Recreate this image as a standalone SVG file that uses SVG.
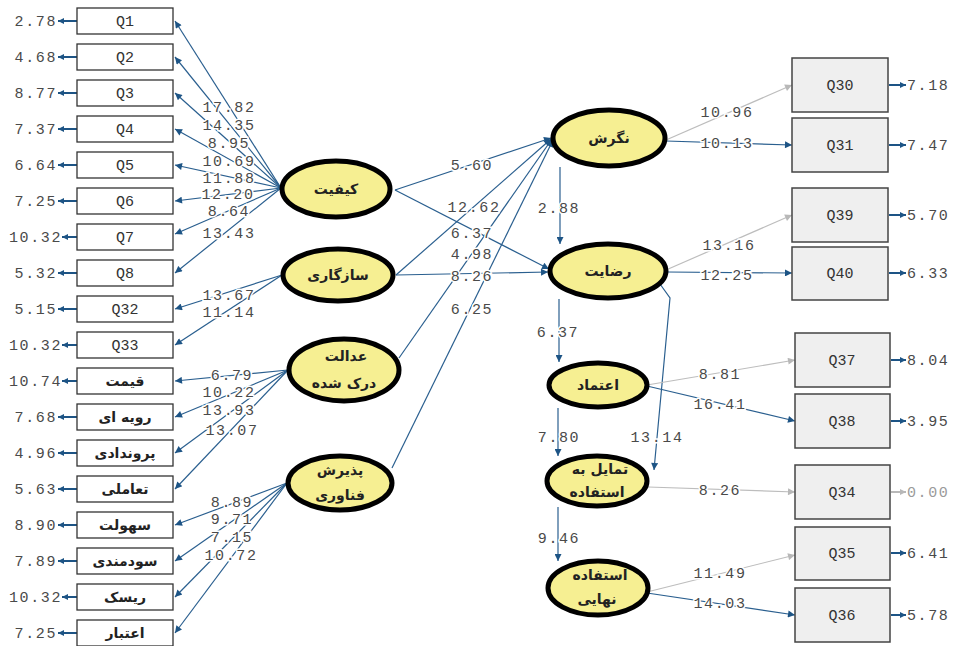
<svg xmlns="http://www.w3.org/2000/svg" width="957" height="646" viewBox="0 0 957 646">
<defs>
<marker id="ab" viewBox="0 0 10 10" refX="10" refY="5" markerWidth="9" markerHeight="7" markerUnits="userSpaceOnUse" orient="auto"><path d="M0,0 L10,5 L0,10 z" fill="#1d5485"/></marker>
<marker id="ag" viewBox="0 0 10 10" refX="10" refY="5" markerWidth="9" markerHeight="7" markerUnits="userSpaceOnUse" orient="auto"><path d="M0,0 L10,5 L0,10 z" fill="#b8b8b8"/></marker>
<marker id="ae" viewBox="0 0 10 10" refX="10" refY="5" markerWidth="8" markerHeight="6" markerUnits="userSpaceOnUse" orient="auto"><path d="M0,0 L10,5 L0,10 z" fill="#1d5485"/></marker>
<marker id="aeg" viewBox="0 0 10 10" refX="10" refY="5" markerWidth="8" markerHeight="6" markerUnits="userSpaceOnUse" orient="auto"><path d="M0,0 L10,5 L0,10 z" fill="#b8b8b8"/></marker>
<style>
.b{stroke:#2a5f8f;stroke-width:1.2;fill:none;marker-end:url(#ab)}
.g{stroke:#bdbdbd;stroke-width:1.2;fill:none;marker-end:url(#ag)}
.e{stroke:#1d5485;stroke-width:2;fill:none;marker-end:url(#ae)}
.eg{stroke:#b8b8b8;stroke-width:2;fill:none;marker-end:url(#aeg)}
.lb{fill:#fff;stroke:#333;stroke-width:1.3}
.rb{fill:#efefef;stroke:#444;stroke-width:1.5}
.el{fill:#f6ef92;stroke:#000;stroke-width:5}
.n{font-family:"Liberation Mono",monospace;font-size:15px;letter-spacing:1.6px;fill:#4a4a4a;text-anchor:middle;paint-order:stroke;stroke:#fff;stroke-width:3px}
.ne{font-family:"Liberation Mono",monospace;font-size:15px;letter-spacing:1.6px;fill:#4a4a4a}
.q{font-family:"Liberation Mono",monospace;font-size:15px;fill:#333;text-anchor:middle}
.p{font-family:"DejaVu Sans",sans-serif;font-size:14px;font-weight:bold;fill:#222;text-anchor:middle}
</style>
</defs>
<rect width="957" height="646" fill="#fff"/>

<g id="connectors">
<line class="b" x1="281" y1="188" x2="175" y2="21"/>
<line class="b" x1="281" y1="188" x2="175" y2="57"/>
<line class="b" x1="281" y1="188" x2="175" y2="93"/>
<line class="b" x1="281" y1="188" x2="175" y2="129"/>
<line class="b" x1="281" y1="188" x2="175" y2="165"/>
<line class="b" x1="281" y1="188" x2="175" y2="201"/>
<line class="b" x1="281" y1="188" x2="175" y2="234"/>
<line class="b" x1="281" y1="188" x2="175" y2="273"/>
<line class="b" x1="282" y1="275" x2="175" y2="309"/>
<line class="b" x1="282" y1="275" x2="175" y2="345"/>
<line class="b" x1="288" y1="370" x2="175" y2="381"/>
<line class="b" x1="288" y1="370" x2="175" y2="417"/>
<line class="b" x1="288" y1="370" x2="175" y2="453"/>
<line class="b" x1="288" y1="370" x2="175" y2="489"/>
<line class="b" x1="287" y1="483" x2="175" y2="525"/>
<line class="b" x1="287" y1="483" x2="175" y2="561"/>
<line class="b" x1="287" y1="483" x2="175" y2="597"/>
<line class="b" x1="287" y1="483" x2="175" y2="633"/>
<line class="e" x1="77" y1="21" x2="58" y2="21"/>
<line class="e" x1="77" y1="57" x2="58" y2="57"/>
<line class="e" x1="77" y1="93" x2="58" y2="93"/>
<line class="e" x1="77" y1="129" x2="58" y2="129"/>
<line class="e" x1="77" y1="165" x2="58" y2="165"/>
<line class="e" x1="77" y1="201" x2="58" y2="201"/>
<line class="e" x1="77" y1="237" x2="62" y2="237"/>
<line class="e" x1="77" y1="273" x2="58" y2="273"/>
<line class="e" x1="77" y1="309" x2="58" y2="309"/>
<line class="e" x1="77" y1="345" x2="62" y2="345"/>
<line class="e" x1="77" y1="381" x2="62" y2="381"/>
<line class="e" x1="77" y1="417" x2="58" y2="417"/>
<line class="e" x1="77" y1="453" x2="58" y2="453"/>
<line class="e" x1="77" y1="489" x2="58" y2="489"/>
<line class="e" x1="77" y1="525" x2="58" y2="525"/>
<line class="e" x1="77" y1="561" x2="58" y2="561"/>
<line class="e" x1="77" y1="597" x2="62" y2="597"/>
<line class="e" x1="77" y1="633" x2="58" y2="633"/>
<line class="b" x1="395" y1="190" x2="551" y2="138"/>
<line class="b" x1="395" y1="190" x2="549" y2="269"/>
<line class="b" x1="396" y1="275" x2="551" y2="139"/>
<line class="b" x1="396" y1="275" x2="548" y2="272"/>
<line class="b" x1="399" y1="358" x2="552" y2="139"/>
<line class="b" x1="392" y1="468" x2="553" y2="140"/>
<line class="b" x1="560" y1="167" x2="560" y2="244"/>
<line class="b" x1="559" y1="299" x2="559" y2="362"/>
<line class="b" x1="558" y1="408" x2="558" y2="456"/>
<line class="b" x1="558" y1="507" x2="558" y2="561"/>
<path class="b" d="M660,284 L670,298 L654,470"/>
<line class="g" x1="666" y1="140" x2="792" y2="85"/>
<line class="b" x1="666" y1="141" x2="792" y2="145"/>
<line class="g" x1="666" y1="270" x2="792" y2="215"/>
<line class="b" x1="667" y1="272" x2="792" y2="273"/>
<line class="g" x1="647" y1="385" x2="795" y2="360"/>
<line class="b" x1="647" y1="386" x2="795" y2="421"/>
<line class="g" x1="648" y1="487" x2="795" y2="492"/>
<line class="g" x1="647" y1="592" x2="795" y2="555"/>
<line class="b" x1="647" y1="593" x2="795" y2="615"/>
<line class="e" x1="889" y1="85" x2="906" y2="85"/>
<line class="e" x1="889" y1="145" x2="906" y2="145"/>
<line class="e" x1="889" y1="215" x2="906" y2="215"/>
<line class="e" x1="889" y1="273" x2="906" y2="273"/>
<line class="e" x1="891" y1="360" x2="906" y2="360"/>
<line class="e" x1="891" y1="421" x2="906" y2="421"/>
<line class="eg" x1="891" y1="492" x2="906" y2="492"/>
<line class="e" x1="891" y1="553" x2="906" y2="553"/>
<line class="e" x1="891" y1="615" x2="906" y2="615"/>
</g>

<g id="labels">
<text class="n" x="229" y="112">17.82</text>
<text class="n" x="229" y="130">14.35</text>
<text class="n" x="229" y="148">8.95</text>
<text class="n" x="229" y="166">10.69</text>
<text class="n" x="229" y="183">11.88</text>
<text class="n" x="228" y="199">12.20</text>
<text class="n" x="229" y="216">8.64</text>
<text class="n" x="229" y="238">13.43</text>
<text class="n" x="229" y="300">13.67</text>
<text class="n" x="229" y="317">11.14</text>
<text class="n" x="232" y="380">6.79</text>
<text class="n" x="229" y="397">10.22</text>
<text class="n" x="229" y="415">13.93</text>
<text class="n" x="232" y="435">13.07</text>
<text class="n" x="232" y="507">8.89</text>
<text class="n" x="232" y="524">9.71</text>
<text class="n" x="232" y="542">7.15</text>
<text class="n" x="231" y="560">10.72</text>
<text class="n" x="472" y="170">5.60</text>
<text class="n" x="474" y="212">12.62</text>
<text class="n" x="472" y="238">6.37</text>
<text class="n" x="472" y="259">4.98</text>
<text class="n" x="472" y="281">8.26</text>
<text class="n" x="472" y="314">6.25</text>
<text class="n" x="559" y="213">2.88</text>
<text class="n" x="558" y="337">6.37</text>
<text class="n" x="559" y="442">7.80</text>
<text class="n" x="559" y="543">9.46</text>
<text class="n" x="657" y="442">13.14</text>
<text class="n" x="727" y="117">10.96</text>
<text class="n" x="727" y="148">10.13</text>
<text class="n" x="729" y="250">13.16</text>
<text class="n" x="727" y="280">12.25</text>
<text class="n" x="720" y="379">8.81</text>
<text class="n" x="720" y="409">16.41</text>
<text class="n" x="720" y="495">8.26</text>
<text class="n" x="720" y="578">11.49</text>
<text class="n" x="720" y="608">14.03</text>
<text class="ne" x="57" y="26" text-anchor="end">2.78</text>
<text class="ne" x="57" y="62" text-anchor="end">4.68</text>
<text class="ne" x="57" y="98" text-anchor="end">8.77</text>
<text class="ne" x="57" y="134" text-anchor="end">7.37</text>
<text class="ne" x="57" y="170" text-anchor="end">6.64</text>
<text class="ne" x="57" y="206" text-anchor="end">7.25</text>
<text class="ne" x="62" y="242" text-anchor="end">10.32</text>
<text class="ne" x="57" y="278" text-anchor="end">5.32</text>
<text class="ne" x="57" y="314" text-anchor="end">5.15</text>
<text class="ne" x="62" y="350" text-anchor="end">10.32</text>
<text class="ne" x="62" y="386" text-anchor="end">10.74</text>
<text class="ne" x="57" y="422" text-anchor="end">7.68</text>
<text class="ne" x="57" y="458" text-anchor="end">4.96</text>
<text class="ne" x="57" y="494" text-anchor="end">5.63</text>
<text class="ne" x="57" y="530" text-anchor="end">8.90</text>
<text class="ne" x="57" y="566" text-anchor="end">7.89</text>
<text class="ne" x="62" y="602" text-anchor="end">10.32</text>
<text class="ne" x="57" y="638" text-anchor="end">7.25</text>
<text class="ne" x="907" y="90">7.18</text>
<text class="ne" x="907" y="150">7.47</text>
<text class="ne" x="907" y="220">5.70</text>
<text class="ne" x="907" y="278">6.33</text>
<text class="ne" x="907" y="365">8.04</text>
<text class="ne" x="907" y="426">3.95</text>
<text class="ne" x="907" y="497" style="fill:#9a9a9a">0.00</text>
<text class="ne" x="907" y="558">6.41</text>
<text class="ne" x="907" y="620">5.78</text>
</g>

<g id="Q1"><rect class="lb" x="77" y="8" width="96" height="26"/><text class="q" x="125" y="26">Q1</text></g>
<g id="Q2"><rect class="lb" x="77" y="44" width="96" height="26"/><text class="q" x="125" y="62">Q2</text></g>
<g id="Q3"><rect class="lb" x="77" y="80" width="96" height="26"/><text class="q" x="125" y="98">Q3</text></g>
<g id="Q4"><rect class="lb" x="77" y="116" width="96" height="26"/><text class="q" x="125" y="134">Q4</text></g>
<g id="Q5"><rect class="lb" x="77" y="152" width="96" height="26"/><text class="q" x="125" y="170">Q5</text></g>
<g id="Q6"><rect class="lb" x="77" y="188" width="96" height="26"/><text class="q" x="125" y="206">Q6</text></g>
<g id="Q7"><rect class="lb" x="77" y="224" width="96" height="26"/><text class="q" x="125" y="242">Q7</text></g>
<g id="Q8"><rect class="lb" x="77" y="260" width="96" height="26"/><text class="q" x="125" y="278">Q8</text></g>
<g id="Q32"><rect class="lb" x="77" y="296" width="96" height="26"/><text class="q" x="125" y="314">Q32</text></g>
<g id="Q33"><rect class="lb" x="77" y="332" width="96" height="26"/><text class="q" x="125" y="350">Q33</text></g>
<g id="price"><rect class="lb" x="77" y="368" width="96" height="26"/><text class="p" x="125" y="386">قیمت</text></g>
<g id="procedural"><rect class="lb" x="77" y="404" width="96" height="26"/><text class="p" x="125" y="422">رویه ای</text></g>
<g id="outcome"><rect class="lb" x="77" y="440" width="96" height="26"/><text class="p" x="125" y="458">پروندادی</text></g>
<g id="interactional"><rect class="lb" x="77" y="476" width="96" height="26"/><text class="p" x="125" y="494">تعاملی</text></g>
<g id="ease"><rect class="lb" x="77" y="512" width="96" height="26"/><text class="p" x="125" y="530">سهولت</text></g>
<g id="usefulness"><rect class="lb" x="77" y="548" width="96" height="26"/><text class="p" x="125" y="566">سودمندی</text></g>
<g id="risk"><rect class="lb" x="77" y="584" width="96" height="26"/><text class="p" x="125" y="602">ریسک</text></g>
<g id="trust-item"><rect class="lb" x="77" y="620" width="96" height="26"/><text class="p" x="125" y="638">اعتبار</text></g>

<g id="quality"><ellipse class="el" cx="336" cy="189" rx="54" ry="28"/><text class="p" x="336" y="194">کیفیت</text></g>
<g id="compat"><ellipse class="el" cx="338" cy="275" rx="55" ry="26"/><text class="p" x="338" y="280">سازگاری</text></g>
<g id="justice"><ellipse class="el" cx="344" cy="370" rx="55" ry="31"/><text class="p" x="346" y="361">عدالت</text><text class="p" x="344" y="388">درک شده</text></g>
<g id="tam"><ellipse class="el" cx="340" cy="483" rx="52" ry="27"/><text class="p" x="340" y="475">پذیرش</text><text class="p" x="340" y="500">فناوری</text></g>
<g id="attitude"><ellipse class="el" cx="609" cy="138" rx="56" ry="28"/><text class="p" x="609" y="143">نگرش</text></g>
<g id="satisfaction"><ellipse class="el" cx="608" cy="271" rx="58" ry="27"/><text class="p" x="608" y="276">رضایت</text></g>
<g id="trust"><ellipse class="el" cx="598" cy="385" rx="49" ry="22"/><text class="p" x="598" y="390">اعتماد</text></g>
<g id="intention"><ellipse class="el" cx="597" cy="481" rx="50" ry="25"/><text class="p" x="600" y="474">تمایل به</text><text class="p" x="597" y="497">استفاده</text></g>
<g id="usage"><ellipse class="el" cx="598" cy="588" rx="50" ry="27"/><text class="p" x="600" y="580">استفاده</text><text class="p" x="597" y="604">نهایی</text></g>

<g id="Q30"><rect class="rb" x="792" y="58" width="96" height="54"/><text class="q" x="840" y="90">Q30</text></g>
<g id="Q31"><rect class="rb" x="792" y="118" width="96" height="54"/><text class="q" x="840" y="150">Q31</text></g>
<g id="Q39"><rect class="rb" x="792" y="188" width="96" height="54"/><text class="q" x="840" y="220">Q39</text></g>
<g id="Q40"><rect class="rb" x="792" y="247" width="96" height="53"/><text class="q" x="840" y="278">Q40</text></g>
<g id="Q37"><rect class="rb" x="795" y="333" width="95" height="54"/><text class="q" x="842" y="365">Q37</text></g>
<g id="Q38"><rect class="rb" x="795" y="394" width="95" height="54"/><text class="q" x="842" y="426">Q38</text></g>
<g id="Q34"><rect class="rb" x="795" y="465" width="95" height="54"/><text class="q" x="842" y="497">Q34</text></g>
<g id="Q35"><rect class="rb" x="795" y="527" width="95" height="53"/><text class="q" x="842" y="558">Q35</text></g>
<g id="Q36"><rect class="rb" x="795" y="588" width="95" height="54"/><text class="q" x="842" y="620">Q36</text></g>
</svg>
